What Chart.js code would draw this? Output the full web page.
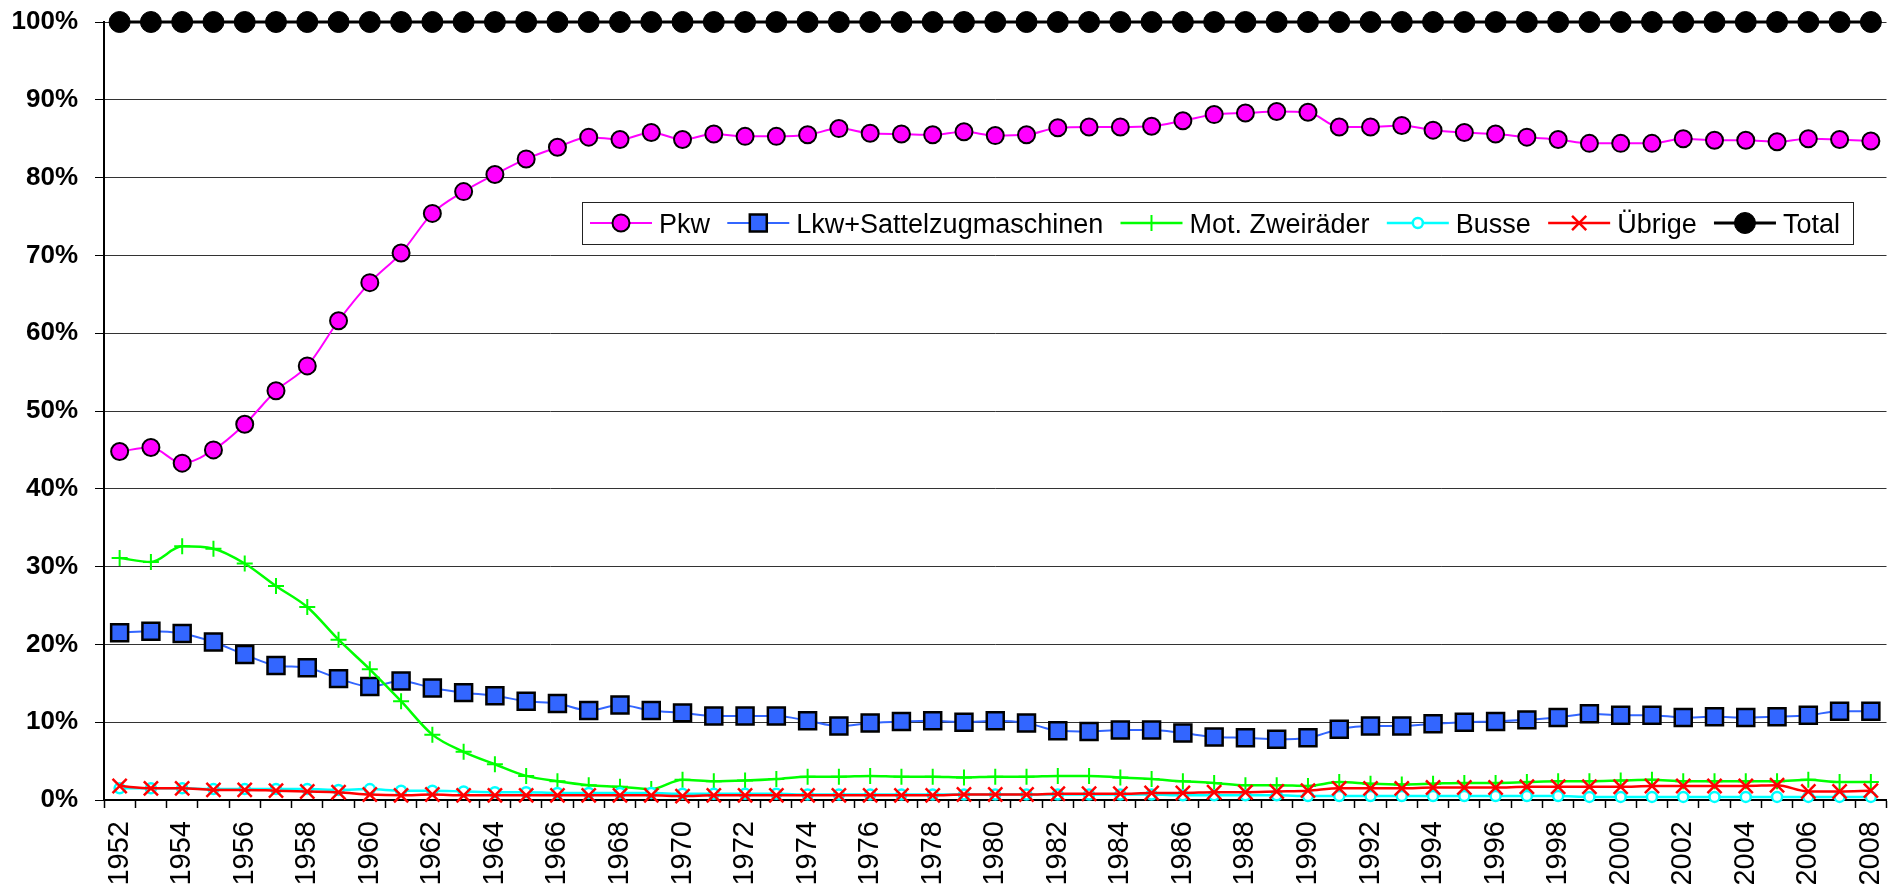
<!DOCTYPE html>
<html>
<head>
<meta charset="utf-8">
<title>Fahrzeugbestand nach Fahrzeugart</title>
<script src="https://cdn.jsdelivr.net/npm/chart.js"></script>
<style>
  html, body { margin: 0; padding: 0; background: #fff; overflow: hidden; }
  #chartCanvas { display: block; }
</style>
</head>
<body>
<canvas id="chartCanvas" width="1901" height="885"></canvas>
<script>
const years = [1952, 1953, 1954, 1955, 1956, 1957, 1958, 1959, 1960, 1961,
  1962, 1963, 1964, 1965, 1966, 1967, 1968, 1969, 1970, 1971,
  1972, 1973, 1974, 1975, 1976, 1977, 1978, 1979, 1980, 1981,
  1982, 1983, 1984, 1985, 1986, 1987, 1988, 1989, 1990, 1991,
  1992, 1993, 1994, 1995, 1996, 1997, 1998, 1999, 2000, 2001,
  2002, 2003, 2004, 2005, 2006, 2007, 2008];

// Anteile in %
const pkw = [44.8, 45.3, 43.3, 45.0, 48.3, 52.6, 55.8, 61.6, 66.5, 70.3,
  75.4, 78.2, 80.4, 82.4, 83.9, 85.2, 84.9, 85.8, 84.9, 85.6,
  85.3, 85.3, 85.5, 86.3, 85.7, 85.6, 85.5, 85.9, 85.4, 85.5,
  86.4, 86.5, 86.5, 86.6, 87.3, 88.1, 88.3, 88.5, 88.4, 86.5,
  86.5, 86.7, 86.1, 85.8, 85.6, 85.2, 84.9, 84.4, 84.4, 84.4,
  85.0, 84.8, 84.8, 84.6, 85.0, 84.9, 84.7];

const lkw = [21.5, 21.7, 21.4, 20.3, 18.7, 17.3, 17.0, 15.6, 14.6, 15.3,
  14.4, 13.8, 13.4, 12.7, 12.4, 11.5, 12.2, 11.5, 11.2, 10.8,
  10.8, 10.8, 10.2, 9.5, 9.9, 10.1, 10.2, 10.0, 10.2, 9.9,
  8.9, 8.8, 9.0, 9.0, 8.6, 8.1, 8.0, 7.8, 8.0, 9.1,
  9.5, 9.5, 9.8, 10.0, 10.1, 10.3, 10.6, 11.1, 10.9, 10.9,
  10.6, 10.7, 10.6, 10.7, 10.9, 11.4, 11.4];

const zweiraeder = [31.1, 30.6, 32.6, 32.3, 30.4, 27.5, 24.8, 20.6, 16.8, 12.7,
  8.4, 6.2, 4.6, 3.1, 2.4, 1.9, 1.7, 1.4, 2.6, 2.4,
  2.5, 2.7, 3.0, 3.0, 3.1, 3.0, 3.0, 2.9, 3.0, 3.0,
  3.1, 3.1, 2.9, 2.7, 2.4, 2.2, 1.9, 1.9, 1.8, 2.3,
  2.1, 2.0, 2.1, 2.2, 2.2, 2.3, 2.4, 2.4, 2.5, 2.6,
  2.4, 2.4, 2.4, 2.4, 2.6, 2.3, 2.3];

const busse = [1.5, 1.5, 1.5, 1.4, 1.4, 1.4, 1.4, 1.3, 1.4, 1.2,
  1.2, 1.1, 1.0, 1.0, 0.9, 0.9, 0.9, 0.9, 0.8, 0.8,
  0.8, 0.8, 0.7, 0.7, 0.7, 0.7, 0.7, 0.7, 0.7, 0.7,
  0.7, 0.7, 0.7, 0.7, 0.6, 0.6, 0.6, 0.6, 0.5, 0.5,
  0.5, 0.5, 0.5, 0.5, 0.5, 0.5, 0.5, 0.4, 0.4, 0.4,
  0.4, 0.4, 0.4, 0.4, 0.4, 0.4, 0.4];

const uebrige = [1.8, 1.5, 1.5, 1.3, 1.3, 1.2, 1.1, 1.0, 0.7, 0.6,
  0.7, 0.6, 0.6, 0.6, 0.6, 0.6, 0.6, 0.6, 0.5, 0.6,
  0.6, 0.6, 0.6, 0.6, 0.6, 0.6, 0.6, 0.7, 0.7, 0.7,
  0.8, 0.8, 0.8, 0.9, 0.9, 1.0, 1.0, 1.1, 1.2, 1.5,
  1.5, 1.5, 1.6, 1.6, 1.6, 1.7, 1.7, 1.7, 1.7, 1.8,
  1.8, 1.8, 1.8, 1.9, 1.1, 1.1, 1.2];

const total = [100, 100, 100, 100, 100, 100, 100, 100, 100, 100,
  100, 100, 100, 100, 100, 100, 100, 100, 100, 100,
  100, 100, 100, 100, 100, 100, 100, 100, 100, 100,
  100, 100, 100, 100, 100, 100, 100, 100, 100, 100,
  100, 100, 100, 100, 100, 100, 100, 100, 100, 100,
  100, 100, 100, 100, 100, 100, 100];

const FONT = "'Liberation Sans', Arial, Helvetica, sans-serif";

// legend drawn as a framed box inside the plot, like the Excel original
const boxLegend = {
  id: 'boxLegend',
  afterDraw(chart, args, opts) {
    const ctx = chart.ctx;
    const datasets = chart.data.datasets;
    ctx.save();
    ctx.font = opts.fontSize + 'px ' + FONT;
    const widths = datasets.map(ds => ctx.measureText(ds.label).width);
    const used = widths.reduce((s, w) => s + opts.lineLen + opts.textGap + w, 0);
    const gap = (opts.width - opts.padLeft - opts.padRight - used) / (datasets.length - 1);

    ctx.fillStyle = '#fff';
    ctx.fillRect(opts.left, opts.top, opts.width, opts.height);
    ctx.strokeStyle = '#222';
    ctx.lineWidth = 1;
    ctx.strokeRect(opts.left + 0.5, opts.top + 0.5, opts.width, opts.height);

    const cy = opts.top + opts.height / 2;
    let x = opts.left + opts.padLeft;
    datasets.forEach((ds, i) => {
      ctx.strokeStyle = ds.borderColor;
      ctx.lineWidth = ds.borderWidth;
      ctx.beginPath();
      ctx.moveTo(x, cy);
      ctx.lineTo(x + opts.lineLen, cy);
      ctx.stroke();

      ctx.fillStyle = ds.pointBackgroundColor;
      ctx.strokeStyle = ds.pointBorderColor;
      ctx.lineWidth = ds.pointBorderWidth;
      Chart.helpers.drawPoint(ctx, {
        pointStyle: ds.pointStyle,
        radius: ds.pointRadius,
        borderWidth: ds.pointBorderWidth,
        rotation: 0
      }, x + opts.lineLen / 2, cy);

      ctx.fillStyle = '#000';
      ctx.textAlign = 'left';
      ctx.textBaseline = 'alphabetic';
      ctx.fillText(ds.label, x + opts.lineLen + opts.textGap, cy + 9.5);
      x += opts.lineLen + opts.textGap + widths[i] + gap;
    });
    ctx.restore();
  }
};

const ctx = document.getElementById('chartCanvas').getContext('2d');

new Chart(ctx, {
  type: 'line',
  data: {
    labels: years,
    datasets: [
      {
        label: 'Pkw',
        data: pkw,
        borderColor: '#ff00ff',
        borderWidth: 2,
        pointStyle: 'circle',
        pointRadius: 8.5,
        pointBackgroundColor: '#ff00ff',
        pointBorderColor: '#000',
        pointBorderWidth: 2,
        order: 6
      },
      {
        label: 'Lkw+Sattelzugmaschinen',
        data: lkw,
        borderColor: '#3366ff',
        borderWidth: 2,
        pointStyle: 'rect',
        pointRadius: 12,
        pointBackgroundColor: '#3366ff',
        pointBorderColor: '#000',
        pointBorderWidth: 2.5,
        order: 5
      },
      {
        label: 'Mot. Zweiräder',
        data: zweiraeder,
        borderColor: '#00ff00',
        borderWidth: 2.5,
        pointStyle: 'cross',
        pointRadius: 8,
        pointBackgroundColor: '#00ff00',
        pointBorderColor: '#00ff00',
        pointBorderWidth: 2,
        order: 4
      },
      {
        label: 'Busse',
        data: busse,
        borderColor: '#00ffff',
        borderWidth: 2.5,
        pointStyle: 'circle',
        pointRadius: 5,
        pointBackgroundColor: '#fff',
        pointBorderColor: '#00ffff',
        pointBorderWidth: 2.5,
        order: 3
      },
      {
        label: 'Übrige',
        data: uebrige,
        borderColor: '#ff0000',
        borderWidth: 2.5,
        pointStyle: 'crossRot',
        pointRadius: 10,
        pointBackgroundColor: '#ff0000',
        pointBorderColor: '#ff0000',
        pointBorderWidth: 2.5,
        order: 2
      },
      {
        label: 'Total',
        data: total,
        borderColor: '#000',
        borderWidth: 3,
        pointStyle: 'circle',
        pointRadius: 10.5,
        pointBackgroundColor: '#000',
        pointBorderColor: '#000',
        pointBorderWidth: 1,
        order: 1
      }
    ]
  },
  options: {
    responsive: false,
    animation: false,
    events: [],
    clip: false,
    layout: { padding: { top: 22, left: 0, right: 0, bottom: 0 } },
    elements: { line: { tension: 0.4, cubicInterpolationMode: 'monotone' } },
    scales: {
      x: {
        type: 'category',
        offset: true,
        afterFit: s => {
          s.height = 85;
          s.paddingLeft = 0;
          s.paddingRight = 0;
        },
        grid: {
          offset: true,
          drawOnChartArea: false,
          drawTicks: true,
          tickLength: 8,
          tickColor: '#000',
          tickWidth: 1.5
        },
        border: { color: '#000', width: 2 },
        ticks: {
          autoSkip: false,
          minRotation: 90,
          maxRotation: 90,
          padding: 13,
          color: '#000',
          font: { family: FONT, size: 29, lineHeight: 1 },
          callback: (v, i) => (i % 2 === 0 ? String(years[i]) : '')
        }
      },
      y: {
        min: 0,
        max: 100,
        afterFit: s => {
          s.width = 104;
          s.paddingTop = 0;
          s.paddingBottom = 0;
        },
        grid: {
          color: '#333',
          lineWidth: 1,
          tickLength: 9,
          tickColor: '#000'
        },
        border: { color: '#000', width: 2 },
        ticks: {
          stepSize: 10,
          padding: 17,
          color: '#000',
          font: { family: FONT, size: 26, weight: 'bold' },
          callback: v => v + '%'
        }
      }
    },
    plugins: {
      legend: { display: false },
      tooltip: { enabled: false },
      boxLegend: {
        left: 582,
        top: 202,
        width: 1271,
        height: 42,
        padLeft: 8,
        padRight: 13,
        lineLen: 62,
        textGap: 7,
        fontSize: 27
      }
    }
  },
  plugins: [boxLegend]
});
</script>
</body>
</html>
